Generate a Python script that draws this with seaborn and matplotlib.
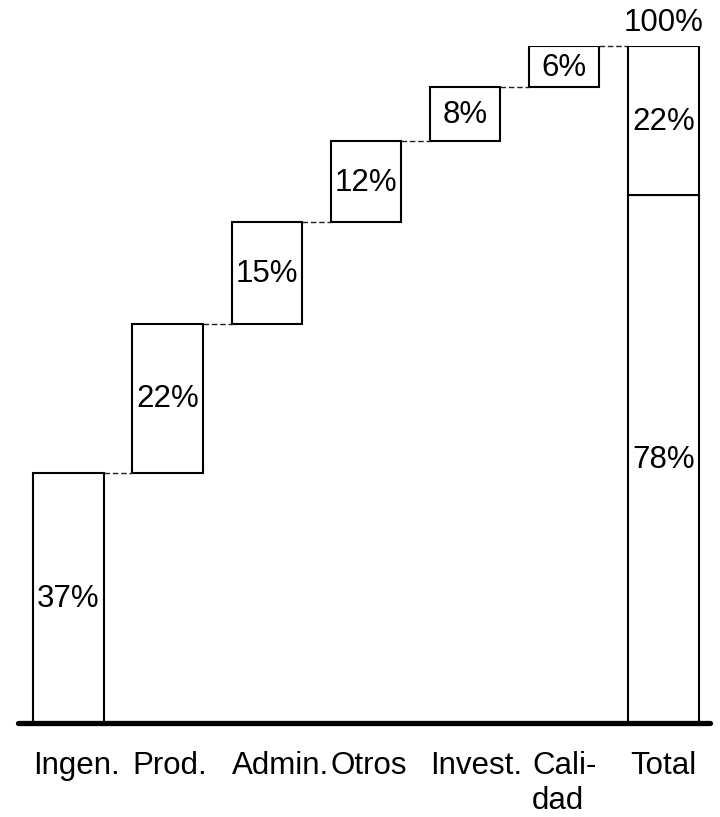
import matplotlib
matplotlib.use("Agg")
import matplotlib.pyplot as plt
import seaborn as sns
import pandas as pd

categories = ["Ingen.", "Prod.", "Admin.", "Otros", "Invest.", "Calidad", "Total"]
tick_labels = ["Ingen.", "Prod.", "Admin.", "Otros", "Invest.", "Cali-\ndad", "Total"]
step_values = [37, 22, 15, 12, 8, 6]
total_lower = 78
total_upper = 22
total_label = "100%"

sns.set_theme(style="white")
plt.rcParams["font.family"] = ["Liberation Sans", "DejaVu Sans"]

# cumulative bottoms for waterfall steps
bottoms = []
acc = 0
for v in step_values:
    bottoms.append(acc)
    acc += v
total_sum = acc

df_main = pd.DataFrame({
    "cat": categories,
    "value": step_values + [total_lower],
    "base": bottoms + [0],
})
df_top = pd.DataFrame({"cat": ["Total"], "value": [total_upper], "base": [total_lower]})

fig = plt.figure(figsize=(7.2, 8.17), dpi=100)
ax = fig.add_axes([16 / 720, (817 - 723) / 817, (712 - 16) / 720, (723 - 46) / 817])

bar_w = 0.71
bar_kw = dict(color="white", edgecolor="black", linewidth=1.5, width=bar_w, saturation=1)
sns.barplot(data=df_main, x="cat", y="value", order=categories, bottom=df_main["base"].values,
            ax=ax, **bar_kw)
sns.barplot(data=df_top, x="cat", y="value", order=categories, bottom=df_top["base"].values,
            ax=ax, **bar_kw)

ax.set_xlim(-0.53, 6.49)
ax.set_ylim(0, total_sum)

# segment labels
fs = 22.5
def seg_label(x, y, txt):
    ax.annotate(txt, xy=(x, y), xytext=(0, -1), textcoords="offset points",
                ha="center", va="center", fontsize=fs, color="black")

for i, (v, b) in enumerate(zip(step_values + [total_lower], bottoms + [0])):
    seg_label(i, b + v / 2, f"{v}%")
seg_label(6, total_lower + total_upper / 2, f"{total_upper}%")
ax.annotate(total_label, xy=(6, total_sum), xytext=(0, 6), textcoords="offset points",
            ha="center", va="bottom", fontsize=fs, color="black", annotation_clip=False)

# dashed connectors
half = bar_w / 2
tops = [b + v for v, b in zip(step_values, bottoms)]
for i, t in enumerate(tops):
    ax.plot([i + half, i + 1 - half], [t, t], color="#222222", linewidth=1.0,
            linestyle=(0, (4, 2)), clip_on=False)

# baseline
ax.plot([-0.51, 6.47], [0, 0], color="black", linewidth=3.8, solid_capstyle="round",
        clip_on=False, zorder=5)

for s in ax.spines.values():
    s.set_visible(False)
ax.set_yticks([])
ax.set_xticks(range(len(categories)))
ax.set_xticklabels(tick_labels, fontsize=fs, color="black")
ax.tick_params(axis="x", length=0, pad=20.5)
ax.set_xlabel("")
ax.set_ylabel("")

# labels wider than the bar start at the bar's left edge, others stay centred
fig.canvas.draw()
renderer = fig.canvas.get_renderer()
bar_px = ax.transData.transform((bar_w, 0))[0] - ax.transData.transform((0, 0))[0]
positions = []
aligns = []
for i, lab in enumerate(ax.get_xticklabels()):
    w = lab.get_window_extent(renderer).width
    if w > bar_px:
        positions.append(i - half)
        aligns.append("left")
    else:
        positions.append(i)
        aligns.append("center")
ax.set_xticks(positions)
ax.set_xticklabels(tick_labels, fontsize=fs, color="black")
for lab, a in zip(ax.get_xticklabels(), aligns):
    lab.set_ha(a)
    lab.set_multialignment("left")
    lab.set_linespacing(1.2)

fig.savefig("out.png", dpi=100)
